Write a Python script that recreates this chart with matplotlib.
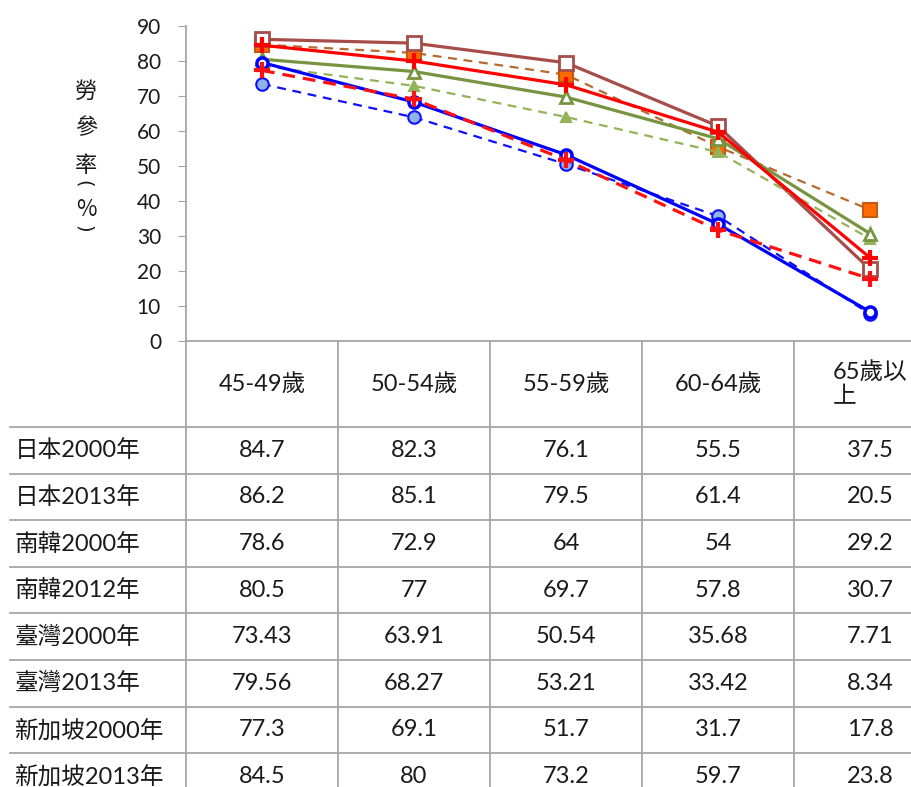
import matplotlib
matplotlib.use("Agg")
import matplotlib.pyplot as plt

plt.rcParams['font.family'] = ['Lato', 'Noto Sans CJK TC', 'DejaVu Sans']

# data
categories = ["45-49歲", "50-54歲", "55-59歲", "60-64歲", "65歲以\n上"]
series_names = ["日本2000年", "日本2013年", "南韓2000年", "南韓2012年",
                "臺灣2000年", "臺灣2013年", "新加坡2000年", "新加坡2013年"]
jp_2000 = [84.7, 82.3, 76.1, 55.5, 37.5]
jp_2013 = [86.2, 85.1, 79.5, 61.4, 20.5]
kr_2000 = [78.6, 72.9, 64, 54, 29.2]
kr_2012 = [80.5, 77, 69.7, 57.8, 30.7]
tw_2000 = [73.43, 63.91, 50.54, 35.68, 7.71]
tw_2013 = [79.56, 68.27, 53.21, 33.42, 8.34]
sg_2000 = [77.3, 69.1, 51.7, 31.7, 17.8]
sg_2013 = [84.5, 80, 73.2, 59.7, 23.8]
values = [jp_2000, jp_2013, kr_2000, kr_2012, tw_2000, tw_2013, sg_2000, sg_2013]
y_ticks = list(range(0, 91, 10))
# vertical axis title 勞參率(%), written top to bottom
y_label_chars = ["勞", "參", "率", "(", "%", ")"]

# styles per series
styles = [
    dict(color="#B8692E", ls=(0, (4, 3)), lw=1.6, marker="s", ms=9.5, mfc="#FF6A00", mec="#C25A10", mew=1.5),
    dict(color="#A64D4A", ls="-", lw=2.3, marker="s", ms=10, mfc="white", mec="#A64D4A", mew=2),
    dict(color="#93B359", ls=(0, (4, 3)), lw=1.6, marker="^", ms=7, mfc="#93B359", mec="#93B359", mew=1.5),
    dict(color="#779440", ls="-", lw=2.3, marker="^", ms=8, mfc="white", mec="#779440", mew=2),
    dict(color="#1010FF", ls=(0, (4, 3)), lw=1.6, marker="o", ms=9, mfc="#8DB4E2", mec="#1010FF", mew=1.5),
    dict(color="#0000FF", ls="-", lw=2.3, marker="o", ms=8, mfc="white", mec="#0000FF", mew=2.5),
    dict(color="#FF1010", ls=(0, (4, 2.5)), lw=2.3, marker="+", ms=12, mfc="#FF1010", mec="#FF1010", mew=3),
    dict(color="#FF0000", ls="-", lw=2.3, marker="+", ms=12, mfc="#FF0000", mec="#FF0000", mew=3),
]

W, H = 911, 787
left_px, col_w = 186, 152
top_px, axis_px = 26, 341
row_top, row_h = 427, 46.6
grid_c = "#A6A6A6"
txt_c = "#1A1A1A"

fig = plt.figure(figsize=(W / 100, H / 100), dpi=100)
ax = fig.add_axes([left_px / W, 1 - axis_px / H,
                   5 * col_w / W, (axis_px - top_px) / H])

xs = [i + 0.5 for i in range(len(categories))]
for vals, st in zip(values, styles):
    ax.plot(xs, vals, color=st["color"], ls=st["ls"], lw=st["lw"],
            marker=st["marker"], ms=st["ms"], mfc=st["mfc"], mec=st["mec"],
            mew=st["mew"], clip_on=False, zorder=3)

ax.set_xlim(0, 5)
ax.set_ylim(0, 90)
ax.set_yticks(y_ticks)
ax.set_xticks([])
ax.tick_params(axis="y", direction="out", length=6, color=grid_c,
               labelsize=15, labelcolor=txt_c, pad=12)
for s in ["top", "right"]:
    ax.spines[s].set_visible(False)
for s in ["left", "bottom"]:
    ax.spines[s].set_color(grid_c)
    ax.spines[s].set_linewidth(1.3)

# stacked vertical axis title (brackets turned to lie across the column)
label_y = [91, 128, 165, 184, 210, 229]
for ch, yy in zip(y_label_chars, label_y):
    if ch in "()":
        fig.text(83.5 / W, 1 - yy / H, ch, fontsize=14, ha="center",
                 va="center", rotation=-90, rotation_mode="anchor",
                 color=txt_c, family="DejaVu Sans")
    else:
        fig.text(86 / W, 1 - yy / H, ch, fontsize=16, ha="center",
                 va="center", color=txt_c,
                 family=['Noto Sans CJK TC', 'DejaVu Sans'])

# data table in pixel coordinates
tb = fig.add_axes([0, 0, 1, 1], zorder=0)
tb.set_xlim(0, W)
tb.set_ylim(H, 0)
tb.axis("off")

n_rows = len(series_names)
bottom_px = row_top + row_h * n_rows
for j in range(len(categories)):
    x = left_px + j * col_w
    tb.plot([x, x], [axis_px, bottom_px], color=grid_c, lw=1.3)
for i in range(n_rows):
    y = row_top + i * row_h
    tb.plot([10, left_px + 5 * col_w], [y, y], color=grid_c, lw=1.3)

for j, cat in enumerate(categories):
    cx = left_px + (j + 0.5) * col_w
    tb.text(cx, (axis_px + row_top) / 2, cat, ha="center", va="center",
            fontsize=17, color=txt_c, multialignment="left", linespacing=1.2)

for i, (name, vals) in enumerate(zip(series_names, values)):
    cy = row_top + (i + 0.5) * row_h
    tb.text(15, cy, name, ha="left", va="center", fontsize=17, color=txt_c)
    for j, v in enumerate(vals):
        cx = left_px + (j + 0.5) * col_w
        tb.text(cx, cy, f"{v:g}", ha="center", va="center", fontsize=17,
                color=txt_c)

fig.savefig("out.png", dpi=100)
